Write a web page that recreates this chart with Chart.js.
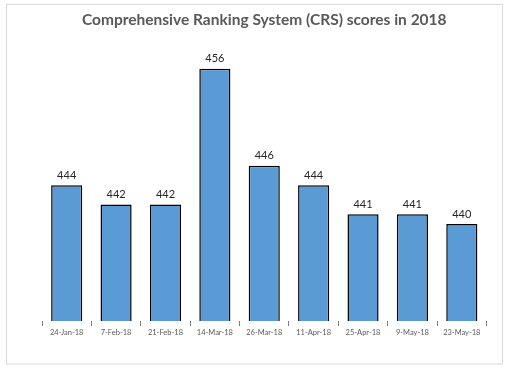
<!DOCTYPE html>
<html>
<head>
<meta charset="utf-8">
<script src="https://cdn.jsdelivr.net/npm/chart.js@4/dist/chart.umd.min.js"></script>
<style>
html,body{margin:0;padding:0;background:#fff;}
#wrap{position:relative;width:509px;height:371px;}
</style>
</head>
<body>
<div id="wrap"><canvas id="c" width="509" height="371"></canvas></div>
<script>
const categories = ["24-Jan-18","7-Feb-18","21-Feb-18","14-Mar-18","26-Mar-18","11-Apr-18","25-Apr-18","9-May-18","23-May-18"];
const crsScores = [444, 442, 442, 456, 446, 444, 441, 441, 440];
const chartTitle = "Comprehensive Ranking System (CRS) scores in 2018";

const frame = {
  id: 'frame',
  beforeDraw(chart) {
    const ctx = chart.ctx;
    ctx.save();
    ctx.fillStyle = '#ffffff';
    ctx.fillRect(0, 0, chart.width, chart.height);
    ctx.strokeStyle = '#d9d9d9';
    ctx.lineWidth = 1;
    ctx.strokeRect(6.5, 4.5, 496, 359.5);
    ctx.restore();
  }
};

const valueLabels = {
  id: 'valueLabels',
  afterDatasetsDraw(chart) {
    const ctx = chart.ctx;
    const meta = chart.getDatasetMeta(0);
    ctx.save();
    ctx.font = '11px Lato, "Liberation Sans", sans-serif';
    ctx.fillStyle = '#262626';
    ctx.textAlign = 'center';
    ctx.textBaseline = 'middle';
    meta.data.forEach((bar, i) => {
      ctx.fillText(String(chart.data.datasets[0].data[i]), bar.x, bar.y - 10);
    });
    ctx.restore();
  }
};

new Chart(document.getElementById('c'), {
  type: 'bar',
  data: {
    labels: categories,
    datasets: [{
      data: crsScores,
      backgroundColor: '#5B9BD5',
      borderColor: '#000000',
      borderWidth: 1.5,
      barPercentage: 0.63,
      categoryPercentage: 1.0
    }]
  },
  options: {
    responsive: false,
    animation: false,
    layout: { padding: { left: 42, right: 22.5, top: 0, bottom: 10 } },
    plugins: {
      legend: { display: false },
      tooltip: { enabled: false },
      title: {
        display: true,
        text: chartTitle,
        color: '#595959',
        font: { family: 'Lato, "Liberation Sans", sans-serif', size: 15.5, weight: 'bold' },
        padding: { top: 11, bottom: 0.4 }
      }
    },
    scales: {
      x: {
        afterFit(s) { s.height = 40; },
        border: { display: false },
        grid: { drawOnChartArea: false, drawTicks: true, tickLength: 5, color: '#7f7f7f', offset: true },
        ticks: { color: '#595959', font: { family: 'Lato, "Liberation Sans", sans-serif', size: 7.5 }, padding: 2, maxRotation: 0, autoSkip: false }
      },
      y: {
        display: false,
        min: 430,
        max: 460
      }
    }
  },
  plugins: [frame, valueLabels]
});
</script>
</body>
</html>
